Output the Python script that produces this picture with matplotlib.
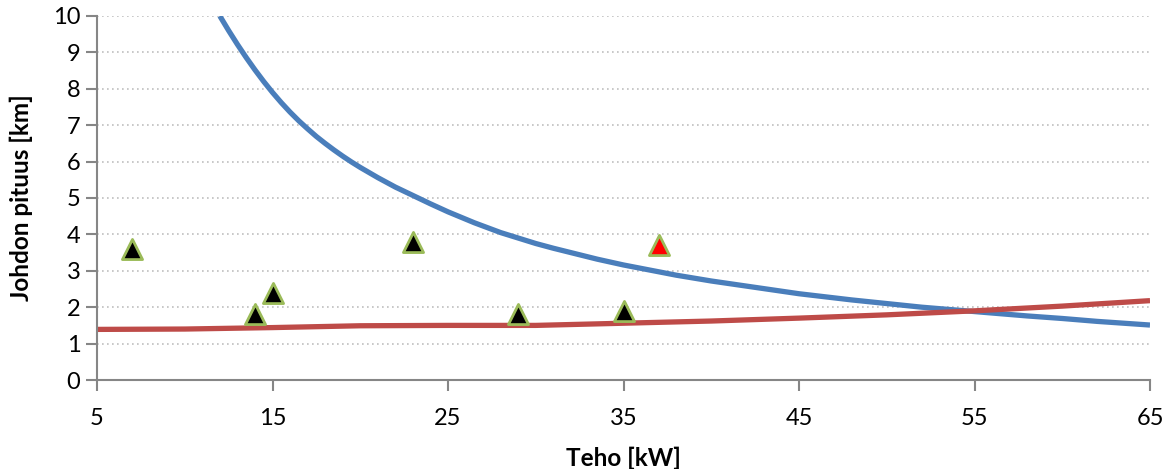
import matplotlib.pyplot as plt

# blue curve
blue_x = [12, 12.5, 13, 13.5, 14, 14.5, 15, 15.5, 16, 16.5, 17, 17.5, 18, 18.5, 19,
          19.5, 20, 21, 22, 23, 24, 25, 26.5, 28, 29, 30, 31, 32, 33.5, 35, 36.5, 38,
          40, 42, 43, 45, 48, 50, 52, 55, 58, 60, 62, 65]
blue_y = [10.0, 9.6, 9.22, 8.86, 8.52, 8.2, 7.9, 7.62, 7.36, 7.12, 6.9, 6.69, 6.5,
          6.32, 6.15, 5.99, 5.84, 5.56, 5.3, 5.07, 4.84, 4.62, 4.32, 4.05, 3.9, 3.75,
          3.62, 3.5, 3.32, 3.16, 3.02, 2.88, 2.72, 2.58, 2.51, 2.37, 2.2, 2.1, 2.0,
          1.88, 1.76, 1.69, 1.61, 1.51]

# red curve
red_x = [5, 10, 15, 20, 25, 30, 35, 40, 45, 50, 55, 60, 65]
red_y = [1.39, 1.40, 1.44, 1.49, 1.50, 1.50, 1.56, 1.62, 1.70, 1.79, 1.90, 2.03, 2.18]

# measured points
pts_x = [7, 14, 15, 23, 29, 35]
pts_y = [3.6, 1.8, 2.4, 3.8, 1.8, 1.9]
red_pt_x = [37]
red_pt_y = [3.7]

plt.rcParams['font.family'] = ['Lato', 'DejaVu Sans']

fig = plt.figure(figsize=(11.76, 4.69), dpi=100)
ax = fig.add_axes([97 / 1176, 1 - 380 / 469, (1150 - 97) / 1176, (380 - 16) / 469])

gray = '#868686'
for v in range(1, 11):
    ax.axhline(v, color='#BFBFBF', lw=1.2, ls=(0, (1, 2)), zorder=0)

ax.plot(blue_x, blue_y, color='#4A7EBB', lw=3.8, zorder=2, solid_capstyle='butt',
        solid_joinstyle='round')
ax.plot(red_x, red_y, color='#BE4B48', lw=3.8, zorder=2, solid_capstyle='butt',
        solid_joinstyle='round')

ax.scatter(pts_x, pts_y, marker='^', s=210, c='black', edgecolors='#9BBB59',
           linewidths=2, zorder=3)
ax.scatter(red_pt_x, red_pt_y, marker='^', s=210, c='#FF0000', edgecolors='#9BBB59',
           linewidths=2, zorder=3)

ax.set_xlim(5, 65)
ax.set_ylim(0, 10)
ax.set_xticks(range(5, 66, 10))
ax.set_yticks(range(0, 11))

for side in ['top', 'right']:
    ax.spines[side].set_visible(False)
for side in ['left', 'bottom']:
    ax.spines[side].set_color(gray)
    ax.spines[side].set_linewidth(1.5)
ax.tick_params(axis='both', colors=gray, width=1.5, length=8, labelcolor='black',
               labelsize=17)
ax.tick_params(axis='x', pad=12)
ax.tick_params(axis='y', pad=4)

ax.set_xlabel('Teho [kW]', fontsize=17.5, fontweight='bold', labelpad=13)
ax.set_ylabel('Johdon pituus [km]', fontsize=17.5, fontweight='bold', labelpad=14)

fig.savefig('out.png', dpi=100)
